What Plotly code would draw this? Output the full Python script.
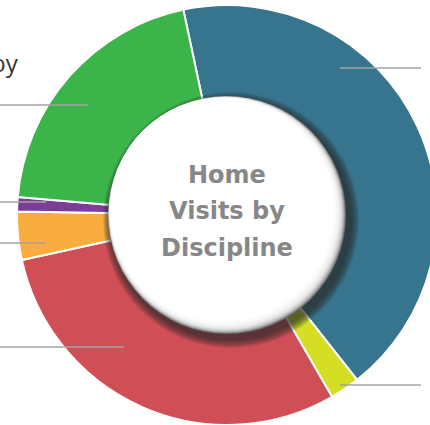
import plotly.graph_objects as go
import math

# ---- data ----
disciplines = ["Skilled Nursing", "Medical Social Work", "Physical Therapy",
               "Speech Therapy", "Dietitian", "Occupational Therapy"]
shares = [42.7, 2.3, 29.9, 3.7, 1.1, 20.3]
colors = ["#37758f", "#d5de23", "#d04e55", "#f9ad3f", "#7c3d96", "#3bb54a"]
center_lines = ["Home", "Visits by", "Discipline"]
side_title = "Visits by"

W, H = 437, 425

def X(px):
    return px / W

def Y(py):
    return 1 - py / H

fig = go.Figure(go.Pie(
    labels=disciplines,
    values=shares,
    sort=False,
    direction="clockwise",
    rotation=-12,
    hole=0.5,
    marker=dict(colors=colors, line=dict(color="white", width=2)),
    textinfo="none",
    showlegend=False,
    domain=dict(x=[17 / W, 1], y=[0, 420 / H]),
))

shapes = []
# leader lines
leaders = [(0, 88, 105), (0, 46, 202), (0, 46, 243), (0, 124, 347),
           (340, 421, 68), (340, 421, 385)]
for x0, x1, yy in leaders:
    shapes.append(dict(type="line", xref="paper", yref="paper",
                       x0=X(x0), x1=X(x1), y0=Y(yy), y1=Y(yy),
                       line=dict(color="#a3a3a3", width=1.5), layer="above"))

cx, cy, R = 227, 215, 119

def circ(x, y, r, fill):
    return dict(type="circle", xref="paper", yref="paper",
                x0=X(x - r), x1=X(x + r), y0=Y(y + r), y1=Y(y - r),
                fillcolor=fill, line=dict(width=0), layer="above")

# drop shadow
for k in range(9, 0, -1):
    shapes.append(circ(cx + 4, cy + 5, R + k, "rgba(45,45,45,0.12)"))
# gray rim base
shapes.append(circ(cx, cy, R, "#6a6a6a"))
# white gradient disks
N = 12
for k in range(1, N + 1):
    s = k * 0.6
    d = s / math.sqrt(2)
    fill = "rgba(255,255,255,0.3)" if k < N else "#ffffff"
    shapes.append(circ(cx - d, cy - d, R - s, fill))

annotations = []
for txt, yy in zip(center_lines, [175, 211, 248]):
    annotations.append(dict(text=txt, x=X(cx), y=Y(yy), xref="paper", yref="paper",
                            showarrow=False, xanchor="center", yanchor="middle",
                            font=dict(family="DejaVu Sans", size=24, color="#878787",
                                      weight="bold")))
annotations.append(dict(text=side_title, x=X(21), y=Y(63), xref="paper", yref="paper",
                        showarrow=False, xanchor="right", yanchor="middle",
                        font=dict(family="Open Sans", size=24, color="#333333")))

fig.update_layout(
    width=W, height=H,
    margin=dict(l=0, r=0, t=0, b=0),
    paper_bgcolor="white",
    plot_bgcolor="white",
    shapes=shapes,
    annotations=annotations,
)

fig.write_html("out.html",
               post_script="document.body.style.margin='0';document.body.style.overflow='hidden';")
